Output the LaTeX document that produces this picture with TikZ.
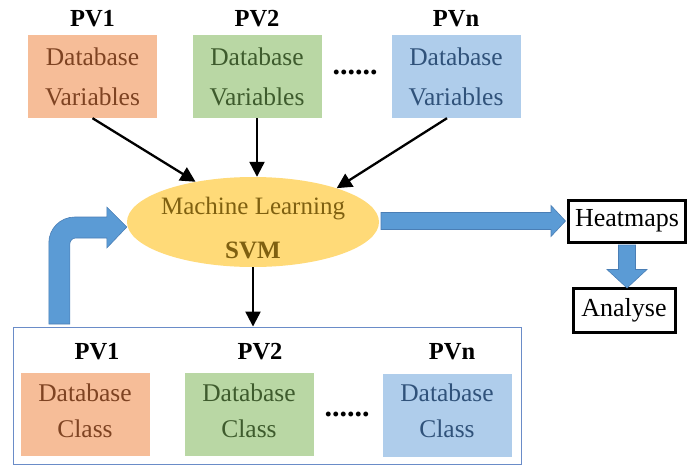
\documentclass[tikz,border=0pt]{standalone}
\usepackage{fontspec}
\setmainfont{Liberation Serif}
\usetikzlibrary{arrows.meta,shapes.geometric,calc}

\definecolor{orfill}{HTML}{F6BD98}
\definecolor{ortext}{HTML}{7E4322}
\definecolor{grfill}{HTML}{B9D7A4}
\definecolor{grtext}{HTML}{3E5B2D}
\definecolor{blfill}{HTML}{AFCDEB}
\definecolor{bltext}{HTML}{30527A}
\definecolor{mlfill}{HTML}{FFDA78}
\definecolor{mltext}{HTML}{7F6010}
\definecolor{fatfill}{HTML}{5B9BD5}
\definecolor{fatline}{HTML}{4A7EB5}
\definecolor{framecol}{HTML}{6A8CC8}

\tikzset{
  dbbox/.style={minimum width=129pt, minimum height=83pt, inner sep=0pt,
    align=center, font=\fontsize{25.5}{40}\selectfont},
  clbox/.style={minimum width=129pt, minimum height=83pt, inner sep=0pt},
  cltext/.style={align=center, inner sep=0pt, font=\fontsize{25.5}{36}\selectfont},
  pvlabel/.style={font=\fontsize{24.5}{28}\selectfont\bfseries},
  dots/.style={font=\fontsize{30}{30}\selectfont\bfseries},
  blk/.style={line width=2.3pt, -{Triangle[length=15pt,width=15pt]}},
  fat/.style={fill=fatfill, draw=fatline, line width=0.6pt},
  outbox/.style={draw, line width=3pt, inner sep=0pt,
    font=\fontsize{26}{28}\selectfont},
  mltxt/.style={font=\fontsize{25}{28}\selectfont, text=mltext},
}

\begin{document}
\begin{tikzpicture}[x=1pt,y=-1pt]
\useasboundingbox (0,0) rectangle (688,466);

% input variable sets
\node[pvlabel] (l1) at (92.5,19) {PV1};
\node[pvlabel] (l2) at (257,19) {PV2};
\node[pvlabel] (ln) at (456,19) {PVn};
\node[dbbox, fill=orfill, text=ortext] (pv1) at (92.5,76.5) {Database\\Variables};
\node[dbbox, fill=grfill, text=grtext] (pv2) at (257,76.5) {Database\\Variables};
\node[dbbox, fill=blfill, text=bltext] (pvn) at (456,76.5) {Database\\Variables};
\node[dots] (d1) at (355,72) {......};

% classifier
\node[ellipse, fill=mlfill, minimum width=252pt, minimum height=90pt, inner sep=0pt] (ml) at (253,222) {};
\node[mltxt] (mlt) at (253,209) {Machine Learning};
\node[mltxt, font=\fontsize{25}{28}\selectfont\bfseries] (svm) at (253,250) {SVM};

\draw[blk] (pv1.south) -- (ml.145);
\draw[blk] (pv2.south) -- (pv2.south |- ml.north);
\draw[blk] ([xshift=-9pt]pvn.south) -- (ml.22);

% class sets
\node[draw=framecol, line width=0.9pt, minimum width=508pt, minimum height=137pt, inner sep=0pt] (bot) at (267,395.5) {};
\node[pvlabel] (b1) at (97,352) {PV1};
\node[pvlabel] (b2) at (260,352) {PV2};
\node[pvlabel] (bn) at (452,352) {PVn};
\node[clbox, fill=orfill] (c1) at (85,414.5) {};
\node[clbox, fill=grfill] (c2) at (249,414.5) {};
\node[clbox, fill=blfill] (cn) at (447,415) {};
\node[cltext, text=ortext] (c1t) at ([yshift=4pt]c1.center) {Database\\Class};
\node[cltext, text=grtext] (c2t) at ([yshift=4pt]c2.center) {Database\\Class};
\node[cltext, text=bltext] (cnt) at ([yshift=4pt]cn.center) {Database\\Class};
\node[dots] (d2) at (347,414) {......};

\draw[blk] (ml.south) -- (ml.south |- bot.north);

% outputs
\node[outbox, minimum width=117pt, minimum height=42pt] (heat) at (627,221) {Heatmaps};
\node[outbox, minimum width=102pt, minimum height=44pt] (ana) at (624,310) {Analyse};

% feedback arrow from the class sets into the classifier
\begin{scope}[shift={(ml.west)}]
\draw[fat] (-78,102) -- (-78,21) .. controls (-78,6.6) and (-66.4,-5) .. (-52,-5)
  -- (-20,-5) -- (-20,-15) -- (0,5) -- (-20,26) -- (-20,16) -- (-51,16)
  .. controls (-54.3,16) and (-57,18.7) .. (-57,22) -- (-57,102) -- cycle;
\end{scope}

% classifier to heatmaps
\begin{scope}[shift={(heat.west)}]
\draw[fat] (-186,-8.5) -- (-16,-8.5) -- (-16,-15.5) -- (-1.5,0) -- (-16,15.5)
  -- (-16,8.5) -- (-186,8.5) -- cycle;
\end{scope}

% heatmaps to analyse
\begin{scope}[shift={(heat.south)}]
\draw[fat] (-8.5,1.5) -- (-8.5,26) -- (-20,26) -- (0,44.5) -- (20,26) -- (8.5,26)
  -- (8.5,1.5) -- cycle;
\end{scope}
\end{tikzpicture}
\end{document}
